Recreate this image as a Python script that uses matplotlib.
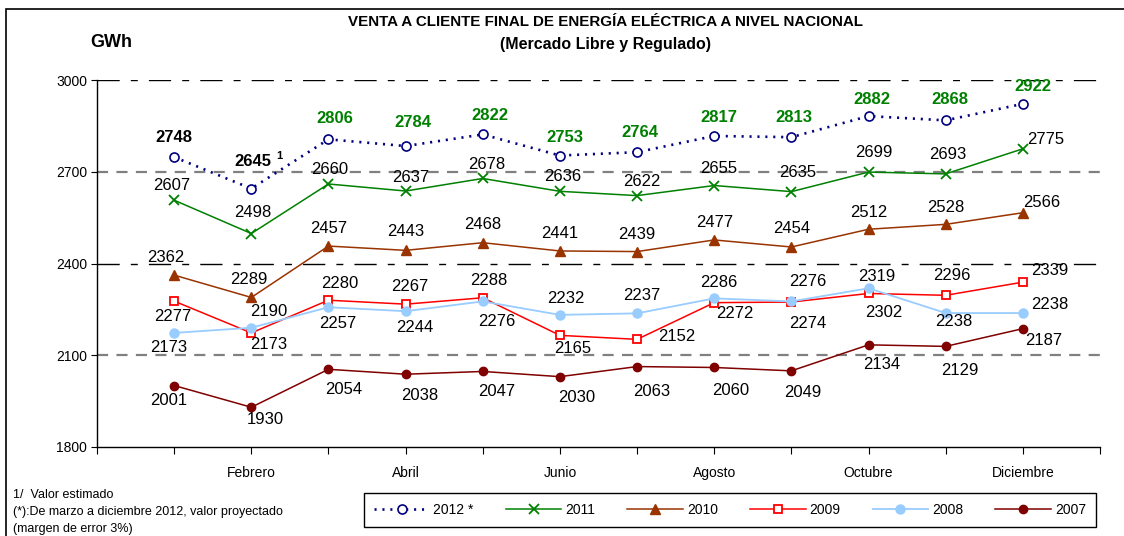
import matplotlib
matplotlib.use('Agg')
import matplotlib.pyplot as plt
from matplotlib.patches import Rectangle

plt.rcParams['font.family'] = ['Liberation Sans', 'DejaVu Sans']
plt.rcParams['lines.scale_dashes'] = False

months = list(range(1, 13))
month_labels = {2: 'Febrero', 4: 'Abril', 6: 'Junio', 8: 'Agosto', 10: 'Octubre', 12: 'Diciembre'}
years = ['2012 *', '2011', '2010', '2009', '2008', '2007']

v2012 = [2748, 2645, 2806, 2784, 2822, 2753, 2764, 2817, 2813, 2882, 2868, 2922]
v2011 = [2607, 2498, 2660, 2637, 2678, 2636, 2622, 2655, 2635, 2699, 2693, 2775]
v2010 = [2362, 2289, 2457, 2443, 2468, 2441, 2439, 2477, 2454, 2512, 2528, 2566]
v2009 = [2277, 2173, 2280, 2267, 2288, 2165, 2152, 2272, 2274, 2302, 2296, 2339]
v2008 = [2173, 2190, 2257, 2244, 2276, 2232, 2237, 2286, 2276, 2319, 2238, 2238]
v2007 = [2001, 1930, 2054, 2038, 2047, 2030, 2063, 2060, 2049, 2134, 2129, 2187]

# label offsets in pixels (dx, dy downwards)
off2012 = [(0, -20), (2, -27), (6, -21), (7, -24), (7, -19), (5, -18),
           (3, -20), (5, -18), (2, -20), (3, -17), (4, -21), (10, -17)]
off2011 = [(-2, -15), (1, -21), (1, -14), (5, -14), (4, -14), (3, -15),
           (5, -14), (4, -17), (6, -19), (5, -20), (2, -19), (23, -9)]
off2010 = [(-8, -18), (-2, -18), (0, -18), (0, -19), (0, -18), (0, -17),
           (0, -17), (0, -17), (0, -18), (0, -17), (0, -17), (19, -10)]
off2009 = [(-1, 15), (17, 12), (11, -17), (4, -18), (6, -17), (13, 13),
           (40, -3), (21, 11), (16, 21), (15, 19), (6, -20), (27, -12)]
off2008 = [(-5, 15), (17, -16), (9, 16), (9, 16), (14, 20), (6, -16),
           (5, -18), (5, -16), (16, -20), (8, -12), (8, 8), (27, -9)]
off2007 = [(-5, 15), (14, 12), (15, 20), (14, 21), (14, 20), (17, 21),
           (15, 25), (16, 23), (11, 22), (13, 20), (14, 24), (21, 12)]

fig = plt.figure(figsize=(11.24, 5.36), dpi=100)
ax = fig.add_axes([97 / 1124, 1 - 447 / 536, (1100 - 97) / 1124, (447 - 80) / 536])

# grid lines
for val, col, dash, lw in [(3000, 'black', (0, (16, 8, 5, 8)), 1.0),
                           (2700, '#808080', (0, (8, 6)), 1.6),
                           (2400, 'black', (0, (16, 8, 5, 8)), 1.0),
                           (2100, '#808080', (0, (8, 6)), 1.6)]:
    ax.axhline(val, color=col, linestyle=dash, linewidth=lw, zorder=1)

l12, = ax.plot(months, v2012, color='#000080', linestyle=(0, (1.5, 4.2)), linewidth=1.9,
               marker='o', markersize=6.5, markerfacecolor='white', markeredgecolor='#000080',
               markeredgewidth=1.2, zorder=3)
l11, = ax.plot(months, v2011, color='#008000', linewidth=1.1, marker='x', markersize=7,
               markeredgewidth=1.3, zorder=3)
l10, = ax.plot(months, v2010, color='#993300', linewidth=1.1, marker='^', markersize=7, zorder=3)
l09, = ax.plot(months, v2009, color='#FF0000', linewidth=1.1, marker='s', markersize=6,
               markerfacecolor='white', markeredgewidth=1.3, zorder=3)
l08, = ax.plot(months, v2008, color='#99CCFF', linewidth=1.3, marker='o', markersize=6.5, zorder=3)
l07, = ax.plot(months, v2007, color='#800000', linewidth=1.1, marker='o', markersize=6, zorder=3)

def put_labels(values, offsets, colors=None, bold=False):
    for i, (v, (dx, dy)) in enumerate(zip(values, offsets)):
        c = colors[i] if colors else 'black'
        ax.annotate(str(v), (months[i], v), xytext=(dx * 0.72, -dy * 0.72),
                    textcoords='offset points', ha='center', va='center',
                    fontsize=12, color=c, fontweight='bold' if bold else 'normal',
                    zorder=4)

put_labels(v2012, off2012, colors=['black', 'black'] + ['#008000'] * 10, bold=True)
ax.annotate('1', (months[1], v2012[1]), xytext=(28 * 0.72, 33 * 0.72),
            textcoords='offset points', ha='center', va='center', fontsize=8,
            fontweight='bold')
put_labels(v2011, off2011)
put_labels(v2010, off2010)
put_labels(v2009, off2009)
put_labels(v2008, off2008)
put_labels(v2007, off2007)

ax.set_xlim(0, 13)
ax.set_ylim(1800, 3000)
ax.set_yticks([1800, 2100, 2400, 2700, 3000])
ax.set_xticks(range(14))
ax.set_xticklabels([month_labels.get(i, '') for i in range(14)])
ax.tick_params(axis='x', length=5, pad=9, labelsize=10)
ax.tick_params(axis='y', length=4, pad=3, labelsize=10)
ax.spines['top'].set_visible(False)
ax.spines['right'].set_visible(False)
ax.spines['left'].set_linewidth(1.0)
ax.spines['bottom'].set_linewidth(1.0)
ax.patch.set_alpha(0)

fig.text(606 / 1124, 1 - 22 / 536, 'VENTA A CLIENTE FINAL DE ENERGÍA ELÉCTRICA A NIVEL NACIONAL',
         ha='center', va='center', fontsize=10.9, fontweight='bold')
fig.text(605 / 1124, 1 - 44 / 536, '(Mercado Libre y Regulado)',
         ha='center', va='center', fontsize=11.5, fontweight='bold')
fig.text(111 / 1124, 1 - 42 / 536, 'GWh', ha='center', va='center', fontsize=13,
         fontweight='bold')

fig.text(13 / 1124, 1 - 495 / 536, '1/  Valor estimado', fontsize=9, va='center')
fig.text(13 / 1124, 1 - 512 / 536, '(*):De marzo a diciembre 2012, valor proyectado',
         fontsize=9, va='center')
fig.text(13 / 1124, 1 - 529 / 536, '(margen de error 3%)', fontsize=9, va='center')

leg = fig.legend([l12, l11, l10, l09, l08, l07], years, ncol=6, loc='center',
                 bbox_to_anchor=(730 / 1124, 1 - 510 / 536), fontsize=10,
                 handlelength=4, handletextpad=0.3, columnspacing=2.3,
                 fancybox=False, edgecolor='black', framealpha=1, borderpad=0.7)
leg.get_frame().set_linewidth(1.0)

fig.add_artist(Rectangle((6 / 1124, -0.5), 2, 1 - 9 / 536 + 0.5, transform=fig.transFigure,
                         fill=False, edgecolor='black', linewidth=1.2))

fig.savefig('out.png', dpi=100)
